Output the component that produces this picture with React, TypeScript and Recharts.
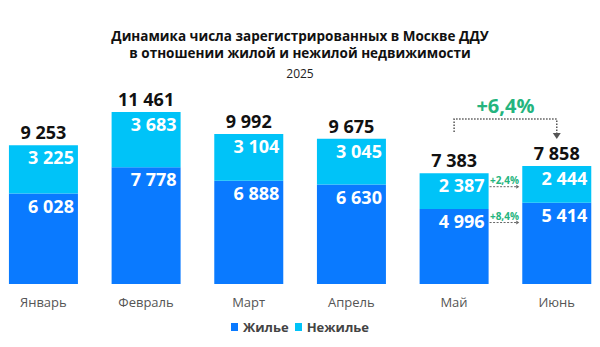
import { BarChart, Bar, XAxis, YAxis, LabelList } from 'recharts'

const months = ['Январь', 'Февраль', 'Март', 'Апрель', 'Май', 'Июнь']
const residential = [6028, 7778, 6888, 6630, 4996, 5414]
const nonResidential = [3225, 3683, 3104, 3045, 2387, 2444]
const totals = [9253, 11461, 9992, 9675, 7383, 7858]

const totalGrowth = '+6,4%'
const nonResGrowth = '+2,4%'
const resGrowth = '+8,4%'

const data = months.map((m, i) => ({
  name: m,
  res: residential[i],
  nonRes: nonResidential[i],
  total: totals[i]
}))

const W = 616
const H = 347
const margin = { top: 112, right: 0, bottom: 33, left: 0 }
const step = (W - margin.left - margin.right) / months.length

const DARK = '#0a7aff'
const LIGHT = '#00c3f8'
const GREEN = '#24b47e'
const FONT = '"Open Sans", sans-serif'

const fmt = (v: number) => String(v).replace(/\B(?=(\d{3})+(?!\d))/g, ' ')

const SegValue = ({ x, y, width, value }: any) => (
  <text x={x + width - 4} y={y + 12} textAnchor="end" dominantBaseline="central"
    fill="#fff" fontSize={18} fontWeight={700} fontFamily={FONT}>{fmt(value)}</text>
)

const SmallArrow = ({ x, width, y, label }: any) => {
  const x1 = x + width + 1
  const x2 = x + step - 3
  return (
    <g>
      <text x={(x1 + x2) / 2} y={y + 7} textAnchor="middle" dominantBaseline="central"
        fill={GREEN} fontSize={10} fontWeight={700} fontFamily={FONT}>{label}</text>
      <line x1={x1} x2={x2 - 2} y1={y + 13.5} y2={y + 13.5} stroke="#666" strokeWidth={1} strokeDasharray="2 1.5" />
      <path d={`M${x2 - 3},${y + 11.5} L${x2},${y + 13.5} L${x2 - 3},${y + 15.5} Z`} fill="#666" />
    </g>
  )
}

const ResLabel = (props: any) => (
  <g>
    <SegValue {...props} />
    {props.index === 4 && <SmallArrow {...props} label={resGrowth} />}
  </g>
)

const NonResLabel = (props: any) => {
  const { x, y, width, index } = props
  const cx = x + width / 2
  return (
    <g>
      <SegValue {...props} />
      <text x={cx} y={y - 13} textAnchor="middle" dominantBaseline="central"
        fill="#111" fontSize={18} fontWeight={700} fontFamily={FONT}>{fmt(totals[index])}</text>
      {index === 4 && <SmallArrow {...props} label={nonResGrowth} />}
      {index === 5 && (
        <g stroke="#555" strokeWidth={1.5} strokeDasharray="1.5 1.5" fill="none">
          <polyline points={`${cx - step},${y - 34} ${cx - step},${y - 47} ${cx},${y - 47} ${cx},${y - 33}`} />
          <path d={`M${cx - 4},${y - 33} L${cx + 4},${y - 33} L${cx},${y - 27} Z`} fill="#555" stroke="none" />
          <text x={cx - step / 2} y={y - 61} textAnchor="middle" dominantBaseline="central"
            fill={GREEN} stroke="none" fontSize={20} fontWeight={700} fontFamily={FONT}>{totalGrowth}</text>
        </g>
      )}
    </g>
  )
}

export default function App() {
  return (
    <div style={{ position: 'relative', width: 600, height: 347, margin: -8, overflow: 'hidden', background: '#fff', fontFamily: FONT }}>
      <div style={{ position: 'absolute', top: 27.5, left: 0, width: 600, textAlign: 'center', fontSize: 13.5, fontWeight: 700, lineHeight: '17px', color: '#111' }}>
        Динамика числа зарегистрированных в Москве ДДУ<br />
        в отношении жилой и нежилой недвижимости
      </div>
      <div style={{ position: 'absolute', top: 65, left: 0, width: 600, textAlign: 'center', fontSize: 12, color: '#222' }}>2025</div>
      <div style={{ position: 'absolute', left: -8, top: 0 }}>
        <BarChart width={W} height={H} data={data} margin={margin} barCategoryGap="16.5%">
          <XAxis dataKey="name" axisLine={false} tickLine={false} height={30} tickMargin={8}
            tick={{ fill: '#555', fontSize: 13, fontFamily: FONT }} interval={0} />
          <YAxis hide domain={[0, 'dataMax']} allowDataOverflow />
          <Bar dataKey="res" stackId="a" fill={DARK} isAnimationActive={false}>
            <LabelList dataKey="res" content={ResLabel} />
          </Bar>
          <Bar dataKey="nonRes" stackId="a" fill={LIGHT} isAnimationActive={false}>
            <LabelList dataKey="nonRes" content={NonResLabel} />
          </Bar>
        </BarChart>
      </div>
      <div style={{ position: 'absolute', top: 318, left: 0, width: 600, display: 'flex', justifyContent: 'center', alignItems: 'center', fontSize: 13, fontWeight: 700, color: '#444' }}>
        <span style={{ display: 'inline-block', width: 7, height: 8, background: DARK, marginRight: 5 }} />
        <span style={{ marginRight: 6 }}>Жилье</span>
        <span style={{ display: 'inline-block', width: 7, height: 8, background: LIGHT, marginRight: 5 }} />
        <span>Нежилье</span>
      </div>
    </div>
  )
}
